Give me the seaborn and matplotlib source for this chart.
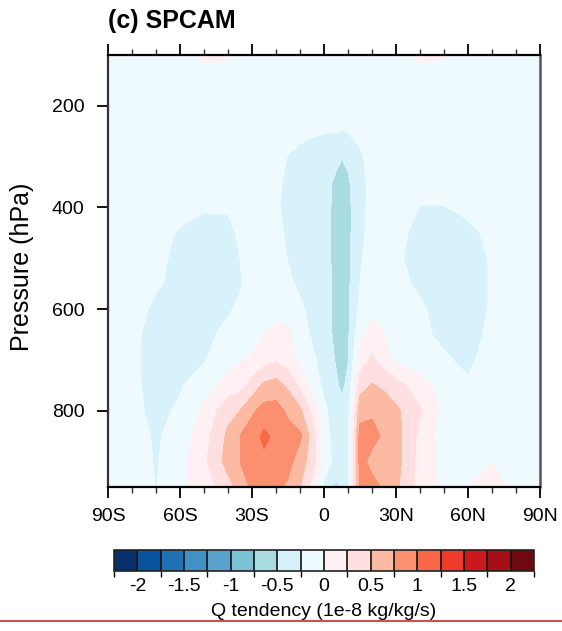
import numpy as np
import matplotlib
matplotlib.use("Agg")
import matplotlib.pyplot as plt
import matplotlib.cm as cm
from matplotlib.colors import ListedColormap, BoundaryNorm
from matplotlib.ticker import MultipleLocator, NullLocator
from matplotlib.lines import Line2D
import seaborn as sns

# ---------------- data ----------------
lats = [-90, -80, -70, -60, -50, -40, -35, -30, -25, -20, -15, -10, -5, 0,
        5, 7.5, 10, 15, 20, 25, 30, 40, 50, 60, 70, 80, 90]
plevs = [100, 150, 200, 250, 300, 350, 400, 450, 500, 550, 600, 650, 700,
         750, 800, 850, 900, 950]

#        -90   -80   -70   -60   -50   -40   -35   -30   -25   -20   -15   -10    -5     0     5   7.5    10    15    20    25    30    40    50    60    70    80    90
q100 = [-.10, -.10, -.10, -.05,  .04,  .03, -.05, -.10, -.10, -.10, -.10, -.10, -.10, -.10, -.10, -.10, -.10, -.10, -.10, -.10, -.06,  .04,  .02, -.06, -.10, -.10, -.10]
q150 = [-.10, -.10, -.10, -.10, -.10, -.10, -.10, -.10, -.10, -.10, -.10, -.10, -.10, -.10, -.10, -.10, -.10, -.10, -.10, -.10, -.10, -.10, -.10, -.10, -.10, -.10, -.10]
q200 = [-.10, -.10, -.10, -.10, -.10, -.10, -.10, -.10, -.10, -.10, -.10, -.10, -.11, -.12, -.13, -.14, -.12, -.10, -.10, -.10, -.10, -.10, -.10, -.10, -.10, -.10, -.10]
q250 = [-.10, -.10, -.10, -.10, -.10, -.10, -.10, -.10, -.10, -.11, -.15, -.20, -.22, -.23, -.24, -.26, -.24, -.20, -.12, -.10, -.10, -.10, -.10, -.10, -.10, -.10, -.10]
q300 = [-.10, -.10, -.10, -.10, -.10, -.10, -.10, -.10, -.10, -.15, -.26, -.30, -.35, -.40, -.44, -.49, -.44, -.28, -.18, -.12, -.10, -.10, -.10, -.10, -.10, -.10, -.10]
q350 = [-.10, -.10, -.10, -.10, -.12, -.12, -.10, -.10, -.10, -.20, -.30, -.33, -.38, -.42, -.54, -.62, -.54, -.30, -.20, -.12, -.10, -.12, -.12, -.10, -.10, -.10, -.10]
q400 = [-.10, -.10, -.12, -.15, -.23, -.23, -.15, -.10, -.10, -.22, -.30, -.33, -.38, -.42, -.56, -.65, -.57, -.30, -.20, -.12, -.12, -.26, -.26, -.20, -.12, -.10, -.10]
q450 = [-.10, -.10, -.15, -.28, -.33, -.30, -.22, -.12, -.10, -.20, -.28, -.33, -.38, -.42, -.56, -.65, -.57, -.29, -.20, -.15, -.20, -.30, -.33, -.30, -.20, -.10, -.10]
q500 = [-.10, -.10, -.20, -.30, -.35, -.33, -.25, -.15, -.10, -.15, -.26, -.33, -.38, -.42, -.56, -.65, -.56, -.27, -.17, -.15, -.22, -.32, -.33, -.33, -.23, -.10, -.10]
q550 = [-.10, -.12, -.22, -.32, -.35, -.30, -.27, -.15, -.10, -.12, -.20, -.30, -.38, -.42, -.55, -.64, -.55, -.25, -.15, -.15, -.20, -.28, -.33, -.33, -.23, -.10, -.10]
q600 = [-.10, -.15, -.30, -.33, -.33, -.27, -.22, -.12, -.10, -.05, -.05, -.20, -.33, -.42, -.55, -.64, -.55, -.18, -.03, -.08, -.12, -.22, -.33, -.33, -.23, -.10, -.10]
q650 = [-.10, -.20, -.33, -.33, -.30, -.20, -.10, -.05,  .00,  .05,  .03, -.12, -.28, -.42, -.54, -.63, -.54, -.05,  .06,  .00, -.10, -.20, -.30, -.33, -.20, -.10, -.10]
q700 = [-.10, -.20, -.35, -.30, -.27, -.10, -.02,  .02,  .15,  .22,  .12, -.05, -.20, -.35, -.52, -.60, -.51,  .10,  .30,  .12, -.05, -.12, -.22, -.30, -.15, -.10, -.10]
q750 = [-.10, -.20, -.33, -.27, -.12,  .10,  .15,  .35,  .55,  .60,  .45,  .20, -.10, -.30, -.46, -.55, -.44,  .40,  .52,  .45,  .35,  .10, -.10, -.22, -.10, -.10, -.10]
q800 = [-.10, -.20, -.30, -.22,  .05,  .42,  .50,  .70,  .85,  .85,  .70,  .55,  .20, -.20, -.38, -.42, -.35,  .65,  .70,  .65,  .55,  .28, -.10, -.10, -.10, -.10, -.10]
q850 = [-.10, -.15, -.28, -.15,  .15,  .55,  .75,  .90, 1.05,  .95,  .85,  .80,  .40, -.15, -.35, -.36, -.30,  .85,  .85,  .70,  .60,  .18, -.12, -.10, -.10, -.10, -.10]
q900 = [-.10, -.12, -.27, -.10,  .20,  .60,  .75,  .90,  .95,  .90,  .85,  .60,  .40, -.10, -.35, -.36, -.30,  .85,  .65,  .75,  .60,  .15, -.10, -.08, -.01, -.10, -.10]
q950 = [-.10, -.05, -.26, -.05,  .10,  .40,  .60,  .80,  .85,  .82,  .70,  .50,  .15, -.30, -.55, -.45, -.30,  .80,  .85,  .70,  .55,  .15, -.05,  .00,  .08, -.05, -.10]

levels = [-2.0, -1.75, -1.5, -1.25, -1.0, -0.75, -0.5, -0.25, 0.0,
          0.25, 0.5, 0.75, 1.0, 1.25, 1.5, 1.75, 2.0]
colors_hex = ["#08306b", "#08519c", "#2171b5", "#4292c6", "#5ba3cf", "#7bc3d3",
              "#a8dbe2", "#d8f2fb", "#effaff", "#fff0f4", "#ffdfe0", "#fdbaa3",
              "#fc8f6f", "#fb6749", "#ef3b2c", "#cb181d", "#a50f15", "#6d0a10"]
cbar_ticks = [-2, -1.5, -1, -0.5, 0, 0.5, 1, 1.5, 2]
cbar_ticklabels = ["-2", "-1.5", "-1", "-0.5", "0", "0.5", "1", "1.5", "2"]
xticks = [-90, -60, -30, 0, 30, 60, 90]
xticklabels = ["90S", "60S", "30S", "0", "30N", "60N", "90N"]
yticks = [200, 400, 600, 800]

# ---------------- style ----------------
sns.set_theme(style="ticks")
plt.rcParams["font.family"] = ["Liberation Sans", "DejaVu Sans"]
plt.rcParams["axes.unicode_minus"] = False
plt.rcParams["text.color"] = "black"
plt.rcParams["xtick.color"] = "black"
plt.rcParams["ytick.color"] = "black"
plt.rcParams["xtick.labelcolor"] = "black"
plt.rcParams["ytick.labelcolor"] = "black"

W, H = 562, 631
fig = plt.figure(figsize=(W / 100, H / 100), dpi=100)
fig.patch.set_facecolor("white")

ax = fig.add_axes([108 / W, 1 - 487 / H, 432 / W, 432 / H])
Q = np.array([q100, q150, q200, q250, q300, q350, q400, q450, q500, q550,
              q600, q650, q700, q750, q800, q850, q900, q950])
fill_levels = [-50.0] + levels + [50.0]
ax.contourf(lats, plevs, Q, levels=fill_levels, colors=colors_hex)
ax.set_xlim(-90, 90)
ax.set_ylim(950, 100)

ax.set_xticks(xticks)
ax.set_xticklabels(xticklabels)
ax.xaxis.set_minor_locator(MultipleLocator(10))
ax.set_yticks(yticks)
ax.yaxis.set_minor_locator(NullLocator())
ax.tick_params(axis="x", which="major", direction="out", length=8, width=1.3,
               top=True, bottom=True, labeltop=False, labelsize=14, pad=7,
               color="black", labelcolor="black")
ax.tick_params(axis="x", which="minor", direction="out", length=4, width=1.0,
               top=True, bottom=True, color="#333333")
ax.tick_params(axis="y", which="major", direction="out", length=8, width=1.3,
               left=True, right=False, labelsize=14, pad=9, color="black",
               labelcolor="black")
for s in ["left", "bottom", "top"]:
    ax.spines[s].set_linewidth(1.6)
    ax.spines[s].set_color("black")
ax.spines["left"].set_color("#333333")
ax.spines["right"].set_linewidth(1.8)
ax.spines["right"].set_color("#555555")
ax.set_xlabel("")
ax.set_ylabel("")

fig.text(22 / W, 1 - 267 / H, "Pressure (hPa)", rotation=90, ha="center",
         va="center", fontsize=18, color="black")
fig.text(108 / W, 1 - 28 / H, "(c) SPCAM", ha="left", va="baseline",
         fontsize=18, fontweight="bold", color="black")

# ---------------- colorbar ----------------
cax = fig.add_axes([114 / W, 1 - 571 / H, 420 / W, 21 / H])
cmap = ListedColormap(colors_hex)
bounds = [-2.25] + levels + [2.25]
norm = BoundaryNorm(bounds, cmap.N)
cb = fig.colorbar(cm.ScalarMappable(norm=norm, cmap=cmap), cax=cax,
                  orientation="horizontal", drawedges=True, ticks=cbar_ticks)
cb.ax.set_xticklabels(cbar_ticklabels)
cb.ax.tick_params(length=0, labelsize=14, pad=5, labelcolor="black")
cb.outline.set_linewidth(1.2)
cb.outline.set_edgecolor("#222222")
cb.dividers.set_linewidth(1.2)
cb.dividers.set_color("#111111")

fig.text(324 / W, 1 - 611 / H, "Q tendency (1e-8 kg/kg/s)", ha="center",
         va="center", fontsize=14, color="black")

fig.add_artist(Line2D([0, 1], [1 - 621 / H, 1 - 621 / H],
                      transform=fig.transFigure, color="#d9363e", lw=1.3))

fig.savefig("out.png", dpi=100)
